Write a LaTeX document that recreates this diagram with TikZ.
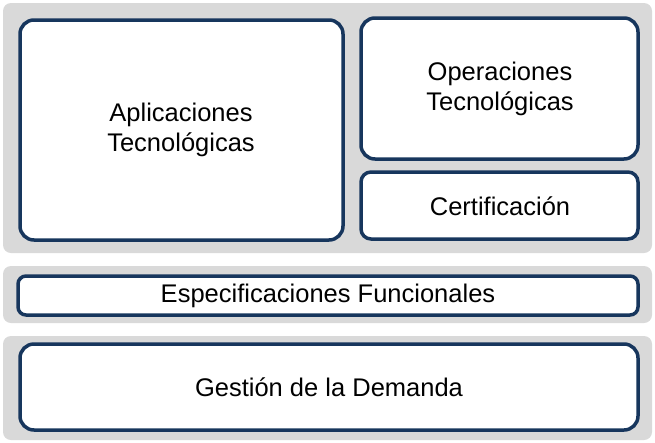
\documentclass[tikz,border=0pt]{standalone}
\usepackage{fontspec}
\setmainfont{Liberation Sans}
\definecolor{navy}{HTML}{17365D}
\definecolor{panel}{HTML}{D9D9D9}
\begin{document}
\begin{tikzpicture}[x=1pt,y=-1pt,
  panelbox/.style={fill=panel,rounded corners=8pt},
  whitebox/.style={fill=white,draw=navy,line width=3.5pt,rounded corners=14pt},
  lbl/.style={font=\fontsize{25.5}{30.5}\selectfont,align=center}]
\useasboundingbox (0,0) rectangle (655,442);
\fill[panelbox] (3,3) rectangle (652,253);
\fill[panelbox] (3,266) rectangle (652,323);
\fill[panelbox] (3,336) rectangle (652,440);
\draw[whitebox] (20,20) rectangle (343,240);
\draw[whitebox] (361,18) rectangle (638,159);
\draw[whitebox,rounded corners=10pt] (361,172) rectangle (638,239);
\draw[whitebox,rounded corners=8pt] (18,276) rectangle (638,315);
\draw[whitebox] (20,344) rectangle (638,430);
\node[lbl] (apl) at (181,130) {Aplicaciones\\Tecnológicas};
\node[lbl] (ope) at (500,89) {Operaciones\\Tecnológicas};
\node[lbl] (cer) at (500,206) {Certificación};
\node[lbl] (esp) at (328,296) {Especificaciones Funcionales};
\node[lbl] (ges) at (329,387) {Gestión de la Demanda};
\end{tikzpicture}
\end{document}
